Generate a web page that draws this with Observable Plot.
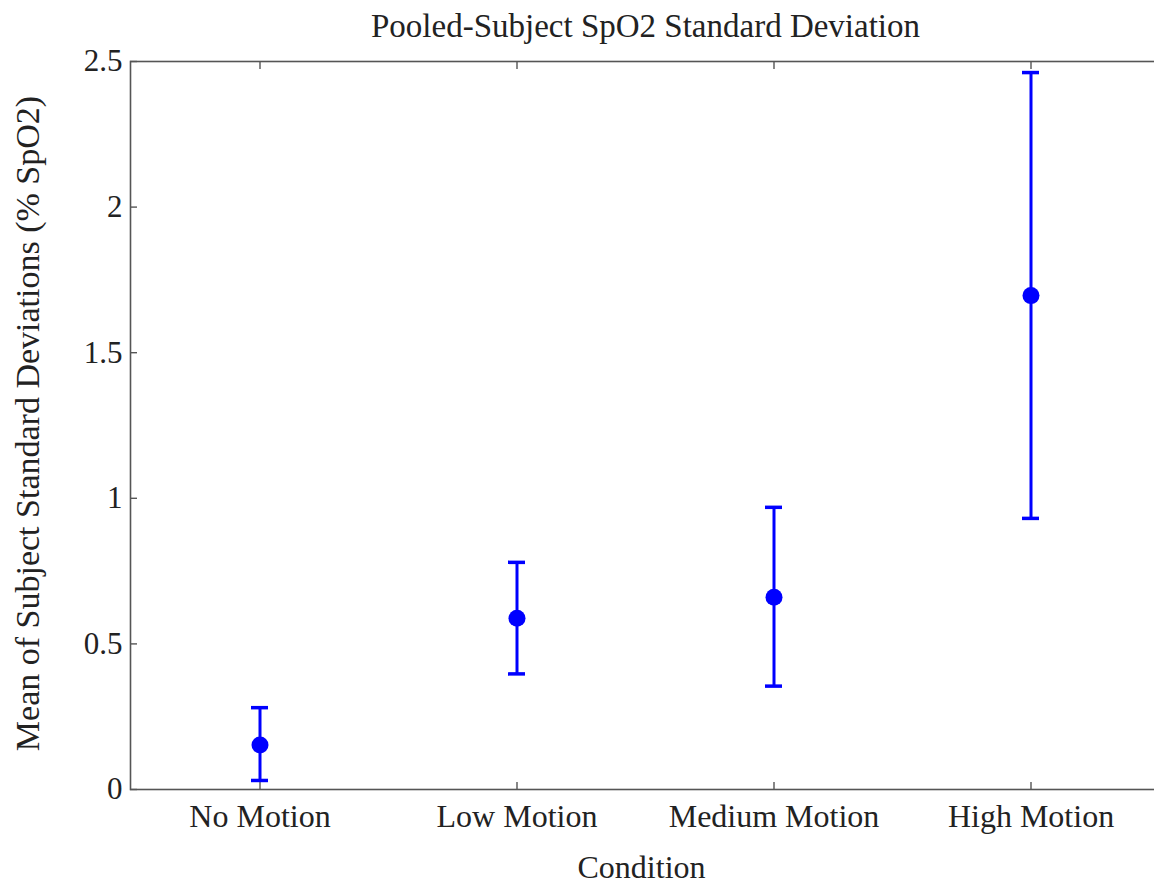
<!DOCTYPE html>
<html>
<head>
<meta charset="utf-8">
<script src="https://cdn.jsdelivr.net/npm/d3@7"></script>
<script src="https://cdn.jsdelivr.net/npm/@observablehq/plot@0.6"></script>
<style>
  body { margin: 0; background: #fff; }
  #chart svg { overflow: hidden; }
</style>
</head>
<body>
<div id="chart"></div>
<script>
const titleText = "Pooled-Subject SpO2 Standard Deviation";
const xLabel = "Condition";
const yLabel = "Mean of Subject Standard Deviations (% SpO2)";
const categories = ["No Motion", "Low Motion", "Medium Motion", "High Motion"];
const means = [0.153, 0.588, 0.660, 1.696];
const lower = [0.031, 0.397, 0.355, 0.931];
const upper = [0.281, 0.780, 0.969, 2.462];
const yTicks = [0, 0.5, 1, 1.5, 2, 2.5];
const yTickLabels = ["0", "0.5", "1", "1.5", "2", "2.5"];

const rows = categories.map((c, i) => ({cat: c, mean: means[i], lo: lower[i], hi: upper[i]}));
const font = "'Liberation Serif', 'Times New Roman', serif";
const blue = "#0000ff";
const axisColor = "#555";
const textColor = "#222";

const chart = Plot.plot({
  width: 1154,
  height: 886,
  marginTop: 61,
  marginBottom: 97,
  marginLeft: 130,
  marginRight: -6,
  style: {fontFamily: font, fontSize: "32px", color: textColor, background: "#fff"},
  x: {type: "band", domain: categories, padding: 0},
  y: {domain: [0, 2.5]},
  marks: [
    Plot.frame({stroke: axisColor, strokeWidth: 1.6}),
    // inward ticks on all four sides
    Plot.axisX(categories, {anchor: "bottom", tickSize: -7, stroke: axisColor, strokeWidth: 1.4, tickFormat: () => "", label: null}),
    Plot.axisX(categories, {anchor: "top", tickSize: -7, stroke: axisColor, strokeWidth: 1.4, tickFormat: () => "", label: null}),
    Plot.axisY(yTicks, {anchor: "left", tickSize: -7, stroke: axisColor, strokeWidth: 1.4, tickFormat: () => "", label: null}),
    Plot.axisY(yTicks, {anchor: "right", tickSize: -7, stroke: axisColor, strokeWidth: 1.4, tickFormat: () => "", label: null}),
    // tick labels
    Plot.axisX(categories, {anchor: "bottom", tickSize: 0, tickPadding: 15, fill: textColor, fontSize: 32, label: null}),
    Plot.axisY(yTicks, {anchor: "left", tickSize: 0, tickPadding: 8, fill: textColor, fontSize: 31, label: null,
      tickFormat: (d) => yTickLabels[yTicks.indexOf(d)]}),
    // error bars
    Plot.ruleX(rows, {x: "cat", y1: "lo", y2: "hi", stroke: blue, strokeWidth: 3}),
    Plot.tickY(rows, {x: "cat", y: "hi", stroke: blue, strokeWidth: 3.5, inset: 120}),
    Plot.tickY(rows, {x: "cat", y: "lo", stroke: blue, strokeWidth: 3.5, inset: 120}),
    Plot.dot(rows, {x: "cat", y: "mean", r: 8.5, fill: blue, stroke: "none"}),
    // titles
    Plot.text([titleText], {frameAnchor: "top", dy: -35, lineAnchor: "middle", textAnchor: "middle", fontSize: 33, fill: textColor}),
    Plot.text([xLabel], {frameAnchor: "bottom", dy: 78, lineAnchor: "middle", textAnchor: "middle", dx: -4, fontSize: 32, fill: textColor}),
    Plot.text([yLabel], {frameAnchor: "left", dx: -102, dy: -2, rotate: -90, lineAnchor: "middle", textAnchor: "middle", fontSize: 34, fill: textColor})
  ]
});
document.getElementById("chart").appendChild(chart);
</script>
</body>
</html>
